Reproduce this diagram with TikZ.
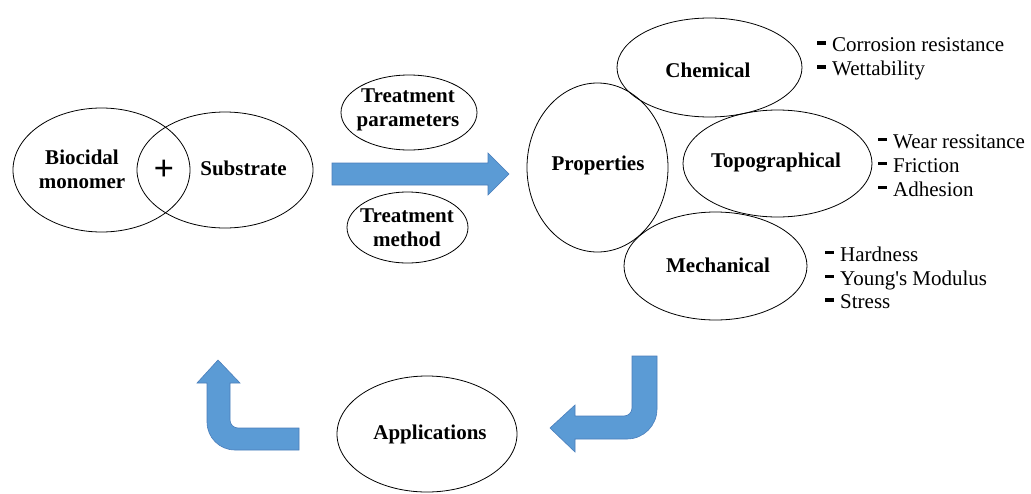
\documentclass[tikz,border=0pt]{standalone}
\usepackage{fontspec}
\setmainfont{Liberation Serif}
\newfontfamily\itemfont{Liberation Serif}
\usetikzlibrary{shapes.geometric}
\definecolor{arrowblue}{HTML}{5B9BD5}
\definecolor{arrowedge}{HTML}{4A7EBB}
\newcommand\itemdash{\rule[7pt]{9pt}{3.5pt}\hspace{6pt}}
\tikzset{
  oval/.style={draw, ellipse, line width=0.8pt, inner sep=0pt},
  lbl/.style={font=\fontsize{21}{24}\selectfont\bfseries, align=center, inner sep=0pt},
  itemtext/.style={font=\itemfont\fontsize{21}{24}\selectfont, anchor=base west, inner sep=0pt},
  blockarrow/.style={fill=arrowblue, draw=arrowedge, line width=0.6pt}
}
\begin{document}
\begin{tikzpicture}[x=1pt, y=-1pt]
\useasboundingbox[fill=white] (0,0) rectangle (1031,493);

% left pair
\node[oval, minimum width=177pt, minimum height=124pt] (bio) at (101.5,170) {};
\node[oval, minimum width=176pt, minimum height=116pt] (sub) at (225,170) {};
\node[lbl] (biot) at (82,169.5) {Biocidal\\monomer};
\node[lbl] (subt) at (243.5,168) {Substrate};
\node[font=\fontsize{36}{36}\selectfont\bfseries, inner sep=0pt] (plus) at (164,170) {+};

% treatment
\node[oval, minimum width=136pt, minimum height=75pt] (tp) at (409,112.5) {};
\node[lbl] (tpt) at (408,110) {Treatment\\parameters};
\node[oval, minimum width=121pt, minimum height=71pt] (tm) at (407.5,227.5) {};
\node[lbl] (tmt) at (407,228) {Treatment\\method};

% right arrow
\path[blockarrow] (332,163) -- (488,163) -- (488,153) -- (509,174) -- (488,195) -- (488,185) -- (332,185) -- cycle;

% properties cluster
\node[oval, minimum width=185pt, minimum height=99pt] (chem) at (709.5,67.5) {};
\node[oval, minimum width=141pt, minimum height=169pt] (prop) at (597.5,167.5) {};
\node[oval, minimum width=189pt, minimum height=107pt] (topo) at (777.5,163.5) {};
\node[oval, minimum width=183pt, minimum height=108pt] (mech) at (715.5,266) {};
\node[lbl] (chemt) at (708,70) {Chemical};
\node[lbl] (propt) at (598,165) {Properties};
\node[lbl] (topot) at (776,163) {Topographical};
\node[lbl] (mecht) at (718,265) {Mechanical};

% lists
\node[itemtext] (c1) at (817,51.5) {\itemdash Corrosion resistance};
\node[itemtext] (c2) at (817,75.5) {\itemdash Wettability};
\node[itemtext] (t1) at (878,148) {\itemdash Wear ressitance};
\node[itemtext] (t2) at (878,172) {\itemdash Friction};
\node[itemtext] (t3) at (878,196) {\itemdash Adhesion};
\node[itemtext] (m1) at (825,261) {\itemdash Hardness};
\node[itemtext] (m2) at (825,285) {\itemdash Young's Modulus};
\node[itemtext] (m3) at (825,308.5) {\itemdash Stress};

% applications
\node[oval, minimum width=180pt, minimum height=116pt] (app) at (427,434) {};
\node[lbl] (appt) at (430,434) {Applications};

% U-turn arrows
\path[blockarrow] (632,356) -- (657,356) -- (657,409)
  .. controls (657,425.6) and (643.6,439) .. (627,439)
  -- (575,439) -- (575,452) -- (550,428) -- (575,405) -- (575,416) -- (624,416)
  .. controls (628.4,416) and (632,412.4) .. (632,408) -- cycle;
\path[blockarrow] (218,360) -- (240,383) -- (230,383) -- (230,420)
  .. controls (230,424.4) and (233.6,428) .. (238,428)
  -- (299,428) -- (299,450) -- (235,450)
  .. controls (219.5,450) and (207,437.5) .. (207,422)
  -- (207,383) -- (197,383) -- cycle;
\end{tikzpicture}
\end{document}
